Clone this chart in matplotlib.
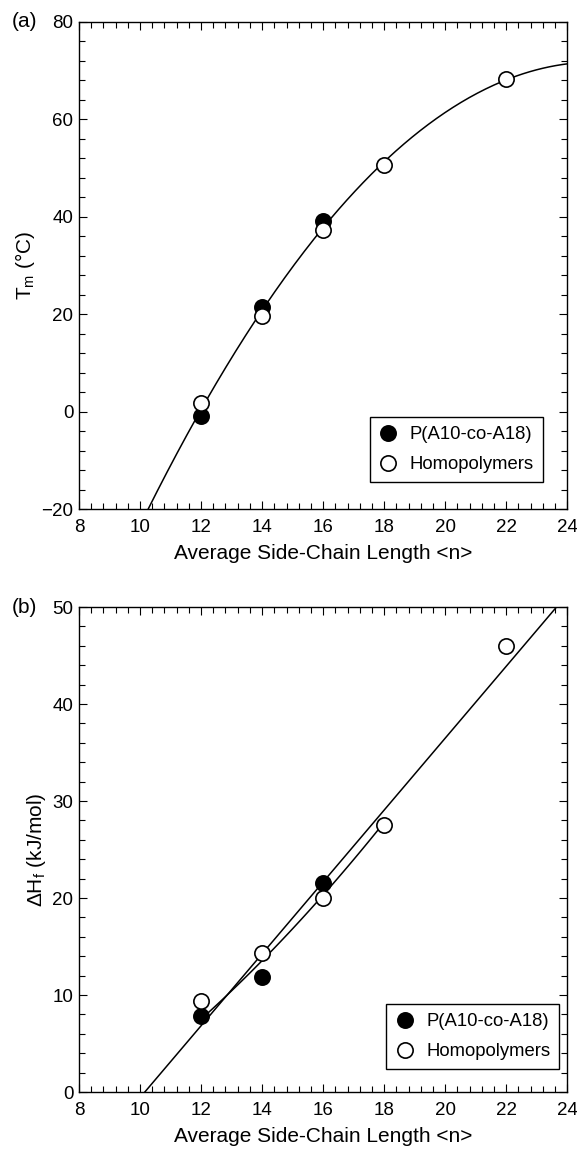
import numpy as np
import matplotlib
matplotlib.use('Agg')
import matplotlib.pyplot as plt
from matplotlib.ticker import MultipleLocator

plt.rcParams['font.family'] = ['Liberation Sans', 'DejaVu Sans']
plt.rcParams['mathtext.fontset'] = 'custom'
plt.rcParams['mathtext.rm'] = 'Liberation Sans'
plt.rcParams['mathtext.it'] = 'Liberation Sans:italic'

# Side-chain length <n> for each series
n_copoly = [12, 14, 16]
n_homo = [12, 14, 16, 18, 22]

# (a) melting temperature, degC
tm_copoly = [-1.0, 21.5, 39.1]
tm_homo = [1.85, 19.7, 37.3, 50.6, 68.2]

# (b) heat of fusion, kJ/mol
dh_copoly = [7.8, 11.9, 21.5]
dh_homo = [9.4, 14.3, 20.0, 27.5, 46.0]

labels = ['P(A10-co-A18)', 'Homopolymers']
x_ticks = [8, 10, 12, 14, 16, 18, 20, 22, 24]

fs = 13.5


def style_axes(ax, ymajor, yminor):
    ax.set_xlim(8, 24)
    ax.set_xticks(x_ticks)
    ax.xaxis.set_minor_locator(MultipleLocator(0.4))
    ax.yaxis.set_major_locator(MultipleLocator(ymajor))
    ax.yaxis.set_minor_locator(MultipleLocator(yminor))
    ax.tick_params(which='both', direction='in', top=True, right=True,
                   width=0.8, color='black', labelsize=fs)
    ax.tick_params(which='major', length=6)
    ax.tick_params(which='minor', length=4)
    ax.tick_params(axis='x', pad=7)
    ax.tick_params(axis='y', pad=4)
    for s in ax.spines.values():
        s.set_linewidth(1.0)
    ax.set_xlabel('Average Side-Chain Length <n>', fontsize=15, labelpad=6)


def add_points(ax, xc, yc, xh, yh, anchor):
    ax.plot(xc, yc, 'o', ms=11, mfc='black', mec='black', mew=1.2,
            zorder=3, label=labels[0])
    ax.plot(xh, yh, 'o', ms=11, mfc='white', mec='black', mew=1.2,
            zorder=4, label=labels[1])
    leg = ax.legend(loc='lower right', bbox_to_anchor=anchor, borderaxespad=0,
                    fontsize=13.3, fancybox=False, framealpha=1, edgecolor='black',
                    handlelength=1.0, handletextpad=0.65, borderpad=0.5,
                    labelspacing=0.7)
    leg.get_frame().set_linewidth(1.0)


fig = plt.figure(figsize=(5.77, 11.49), dpi=100)
ax1 = fig.add_axes([0.137, 0.557, 0.846, 0.424])
ax2 = fig.add_axes([0.137, 0.0496, 0.846, 0.4221])

# (a) quadratic fit through all Tm points
xa = np.array(n_copoly + n_homo)
ya = np.array(tm_copoly + tm_homo)
pa = np.polyfit(xa, ya, 2)
xx = np.linspace(8, 24, 300)
ax1.plot(xx, np.polyval(pa, xx), color='black', lw=1.1, zorder=2)
add_points(ax1, n_copoly, tm_copoly, n_homo, tm_homo, (0.950, 0.055))
style_axes(ax1, 20, 4)
ax1.set_ylim(-20, 80)
ax1.set_ylabel('T$_{\\rm m}$ (°C)', fontsize=15, labelpad=3)
ax1.text(-0.137, 1.0, '(a)', transform=ax1.transAxes, ha='left', va='center',
         fontsize=15)

# (b) linear fit through all dH points + quadratic through the n <= 18 points
xb = np.array(n_copoly + n_homo)
yb = np.array(dh_copoly + dh_homo)
pb = np.polyfit(xb, yb, 1)
ax2.plot(xx, np.polyval(pb, xx), color='black', lw=1.1, zorder=2)
xc_fit = n_copoly + n_homo[1:4]
yc_fit = dh_copoly + dh_homo[1:4]
pc = np.polyfit(xc_fit, yc_fit, 2)
xs = np.linspace(12.1, 17.9, 100)
ax2.plot(xs, np.polyval(pc, xs), color='black', lw=1.1, zorder=2)
add_points(ax2, n_copoly, dh_copoly, n_homo, dh_homo, (0.984, 0.047))
style_axes(ax2, 10, 2)
ax2.set_ylim(0, 50)
ax2.set_ylabel('ΔH$_{\\rm f}$ (kJ/mol)', fontsize=15, labelpad=3)
ax2.text(-0.137, 1.0, '(b)', transform=ax2.transAxes, ha='left', va='center',
         fontsize=15)

fig.savefig('out.png', dpi=100)
